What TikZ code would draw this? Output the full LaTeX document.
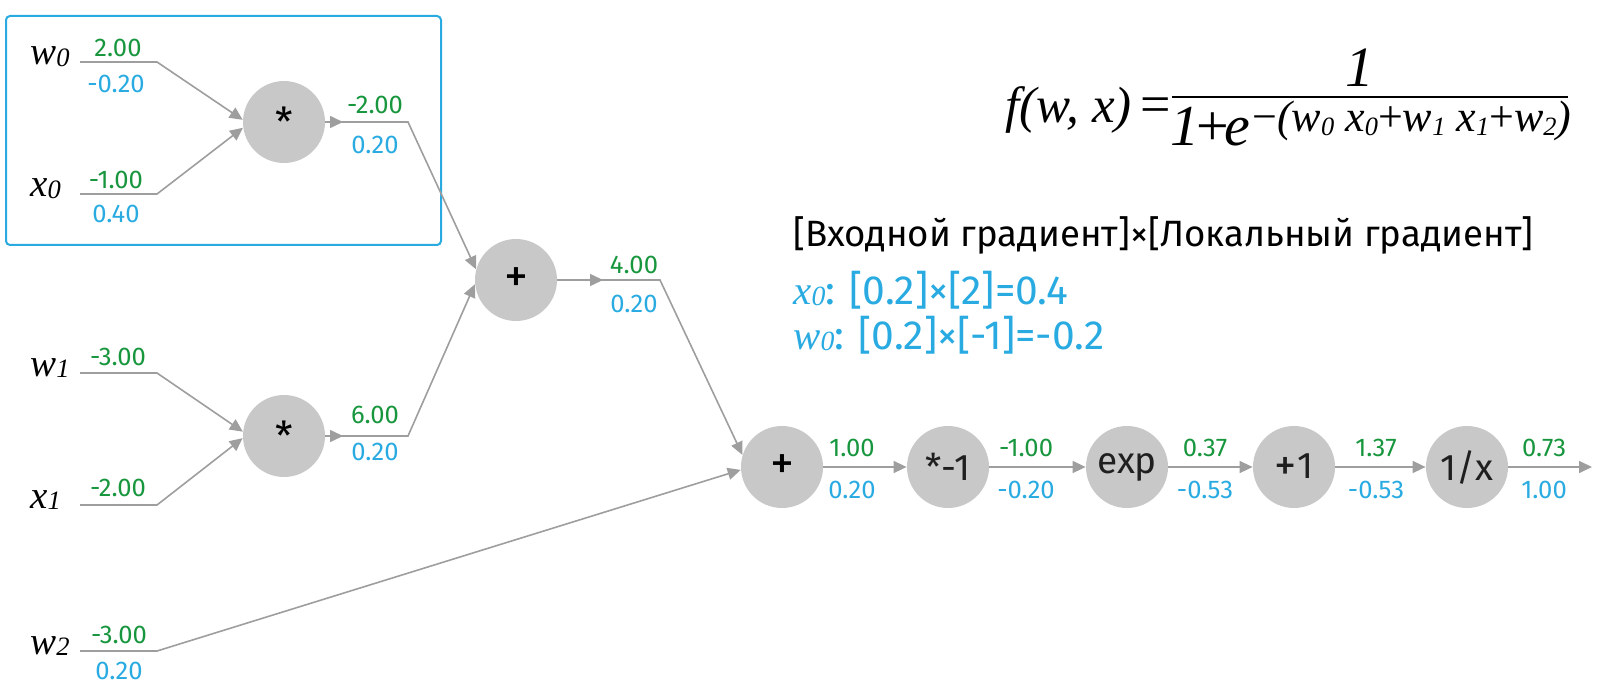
\documentclass[tikz,border=0pt]{standalone}
\usepackage{fontspec}
\setmainfont{Fira Sans}
\newfontfamily\formfont{Liberation Serif}
\usetikzlibrary{arrows.meta}
\definecolor{fwdgreen}{RGB}{24,150,62}
\definecolor{bwdblue}{RGB}{41,171,226}
\definecolor{nodegray}{RGB}{200,200,200}
\definecolor{wiregray}{RGB}{158,158,158}
\newcommand{\ix}[1]{\raisebox{-0.08em}{\scalebox{0.6}{#1}}}
\newcommand{\vname}[2]{{\formfont\itshape #1\raisebox{-0.04em}{\scalebox{0.68}{#2}}}}
\newcommand{\mulsign}{\raisebox{-0.22em}{*}}
\newcommand{\bigplus}{\raisebox{-0.04em}{\scalebox{1.2}{+}}}
\begin{document}
\begin{tikzpicture}[x=0.5pt,y=-0.5pt,
  op/.style={circle,fill=nodegray,minimum size=41pt,inner sep=0pt,font=\fontsize{20}{20}\selectfont},
  bigop/.style={op,font=\fontsize{18.5}{18.5}\selectfont,text=black!88},
  wire/.style={wiregray,line width=0.8pt},
  tip/.style={-{Triangle[length=6.5pt,width=6pt]}},
  fwd/.style={text=fwdgreen,inner sep=0pt,font=\fontsize{12.8}{12.8}\selectfont},
  bwd/.style={text=bwdblue,inner sep=0pt,font=\fontsize{12.8}{12.8}\selectfont},
  varlbl/.style={anchor=base west,inner sep=0pt,font=\fontsize{19.5}{19.5}\selectfont},
  note/.style={anchor=base west,inner sep=0pt,font=\fontsize{18.3}{18.3}\selectfont},
  formula/.style={inner sep=0pt,font=\fontsize{25.5}{25.5}\selectfont\formfont\itshape}]
\useasboundingbox (0,0) rectangle (1600,700);
\draw[bwdblue,line width=1pt,rounded corners=2pt] (6,16) rectangle (441,245);
\node[op] (m0) at (284,122) {\mulsign};
\node[op] (m1) at (284,436) {\mulsign};
\node[op] (a0) at (516,280) {\bigplus};
\node[op] (a1) at (782,467) {\bigplus};
\node[bigop] (neg) at (948,467) {*-1};
\node[bigop] (ex) at (1127,467) {exp};
\node[bigop] (p1) at (1294,467) {\bigplus1};
\node[bigop] (inv) at (1467,467) {1/x};
\foreach \v/\y in {w0/62,x0/194,w1/373,x1/505,w2/651}
{ \coordinate (s\v) at (80,\y); \coordinate (e\v) at (157,\y); };
\foreach \v/\l/\i/\y in {w0/w/0/62,x0/x/0/194,w1/w/1/373,x1/x/1/505,w2/w/2/651}
{ \node[varlbl] (l\v) at (30,\y+3) {\vname{\l}{\i}}; };
\coordinate (m0t) at (343,122);
\coordinate (m0c) at (408,122);
\coordinate (m1t) at (343,436);
\coordinate (m1c) at (408,436);
\coordinate (a0t) at (603,280);
\coordinate (a0c) at (660,280);
\coordinate (out) at (1592,467);
\draw[wire,tip] (sw0) -- (ew0) -- (m0.177);
\draw[wire,tip] (sx0) -- (ex0) -- (m0.188);
\draw[wire,tip] (sw1) -- (ew1) -- (m1.174);
\draw[wire,tip] (sx1) -- (ex1) -- (m1.183);
\draw[wire,tip] (m0.east) -- (m0c) -- (a0.165);
\draw[wire,tip] (m1.east) -- (m1c) -- (a0.186);
\draw[wire,tip] (a0.east) -- (a0c) -- (a1.163);
\draw[wire,tip] (sw2) -- (ew2) -- (a1.184);
\draw[wire,tip] (m0.east) -- (m0t);
\draw[wire,tip] (m1.east) -- (m1t);
\draw[wire,tip] (a0.east) -- (a0t);
\foreach \s/\t in {a1/neg,neg/ex,ex/p1,p1/inv}
{ \draw[wire,tip] (\s) -- (\t); };
\draw[wire,tip] (inv) -- (out);
\node[fwd] (fw0) at (118,48) {2.00};
\node[bwd] (bw0) at (116,84) {-0.20};
\node[fwd] (fx0) at (116,180) {-1.00};
\node[bwd] (bx0) at (116,214) {0.40};
\node[fwd] (fm0) at (375,105) {-2.00};
\node[bwd] (bm0) at (375,145) {0.20};
\node[fwd] (fw1) at (118,357) {-3.00};
\node[fwd] (fx1) at (118,488) {-2.00};
\node[fwd] (fm1) at (375,415) {6.00};
\node[bwd] (bm1) at (375,452) {0.20};
\node[fwd] (fa0) at (634,265) {4.00};
\node[bwd] (ba0) at (634,304) {0.20};
\node[fwd] (fw2) at (119,635) {-3.00};
\node[bwd] (bw2) at (119,671) {0.20};
\foreach \n/\x/\f/\b in {a1/852/1.00/0.20,neg/1026/-1.00/-0.20,ex/1205/0.37/-0.53,p1/1376/1.37/-0.53,inv/1544/0.73/1.00}
{ \node[fwd] (f\n) at (\x,448) {\f}; \node[bwd] (b\n) at (\x,490) {\b}; };
\node[formula,anchor=base west] (lhs) at (1005,123)
  {f(w, x)\kern4.5pt{\upshape\fontsize{27}{27}\selectfont=}};
\node[formula,anchor=base,font=\fontsize{28.5}{28.5}\selectfont\formfont\itshape] (num) at (1360,87) {1};
\node[formula,anchor=base west,font=\fontsize{29}{29}\selectfont\formfont\itshape] (den) at (1170,146)
  {1\kern-1.5pt{\upshape+}\kern-2.5pt e};
\node[anchor=base west,inner sep=0pt,font=\fontsize{22}{22}\selectfont\formfont\itshape] (expo) at (1252,132)
  {{\upshape −}(w\ix{0} x\ix{0}{\upshape+}w\ix{1} x\ix{1}{\upshape+}w\ix{2})};
\coordinate (barl) at (1172,97);
\coordinate (barr) at (1568,97);
\draw[line width=1.3pt] (barl) -- (barr);
\node[note] (rule) at (793,247) {[Входной градиент]×[Локальный градиент]};
\node[note,text=bwdblue,font=\fontsize{20.4}{20.4}\selectfont] (gx0) at (793,304) {\vname{x}{0}: [0.2]×[2]=0.4};
\node[note,text=bwdblue,font=\fontsize{20.4}{20.4}\selectfont] (gw0) at (793,349) {\vname{w}{0}: [0.2]×[-1]=-0.2};
\end{tikzpicture}
\end{document}
